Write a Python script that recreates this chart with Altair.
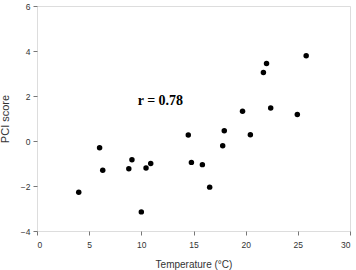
import altair as alt
import pandas as pd

temperature = [4.0, 6.0, 6.3, 8.8, 9.1, 10.45, 10.9, 10.0, 14.5, 14.8, 15.85,
               16.55, 17.8, 17.95, 20.45, 19.7, 22.4, 24.95, 21.7, 22.0, 25.8]
pci_score = [-2.28, -0.3, -1.3, -1.23, -0.83, -1.2, -1.0, -3.15, 0.27, -0.95, -1.05,
             -2.05, -0.21, 0.46, 0.28, 1.32, 1.47, 1.18, 3.04, 3.44, 3.79]

annot_text = ["r = 0.78"]
annot_x = [9.65]
annot_y = [1.79]

df = pd.DataFrame({"t": temperature, "p": pci_score})
adf = pd.DataFrame({"x": annot_x, "y": annot_y, "label": annot_text})

xscale = alt.Scale(domain=[0, 30], nice=False, zero=False)
yscale = alt.Scale(domain=[-4, 6], nice=False, zero=False)

axis_common = dict(
    grid=False,
    domain=False,
    tickColor="#777777",
    tickSize=4,
    labelFont="Liberation Sans",
    labelFontSize=8.5,
    labelColor="#333333",
    titleFont="Liberation Sans",
    titleFontWeight="normal",
    titleColor="#333333",
)

points = alt.Chart(df).mark_circle(size=30, color="black", opacity=1).encode(
    x=alt.X("t:Q", scale=xscale,
            axis=alt.Axis(title="Temperature (°C)", values=[0, 5, 10, 15, 20, 25, 30],
                          labelPadding=5, titlePadding=11, titleFontSize=10,
                          **axis_common)),
    y=alt.Y("p:Q", scale=yscale,
            axis=alt.Axis(title="PCI score", values=[-4, -2, 0, 2, 4, 6],
                          labelPadding=3, titlePadding=10, titleFontSize=11,
                          **axis_common)),
)

text = alt.Chart(adf).mark_text(
    font="Liberation Serif", fontSize=14, fontWeight="bold", align="left",
    baseline="middle", color="black"
).encode(
    x=alt.X("x:Q", scale=xscale),
    y=alt.Y("y:Q", scale=yscale),
    text="label:N",
)

chart = alt.layer(points, text).properties(
    width=313, height=225,
    autosize=alt.AutoSizeParams(type="none"),
    padding={"left": 37, "top": 6, "right": 6, "bottom": 39},
).configure_view(stroke="#888888", strokeWidth=1).configure(background="white")

chart.save("out.html", embed_options={"renderer": "svg", "actions": False})
